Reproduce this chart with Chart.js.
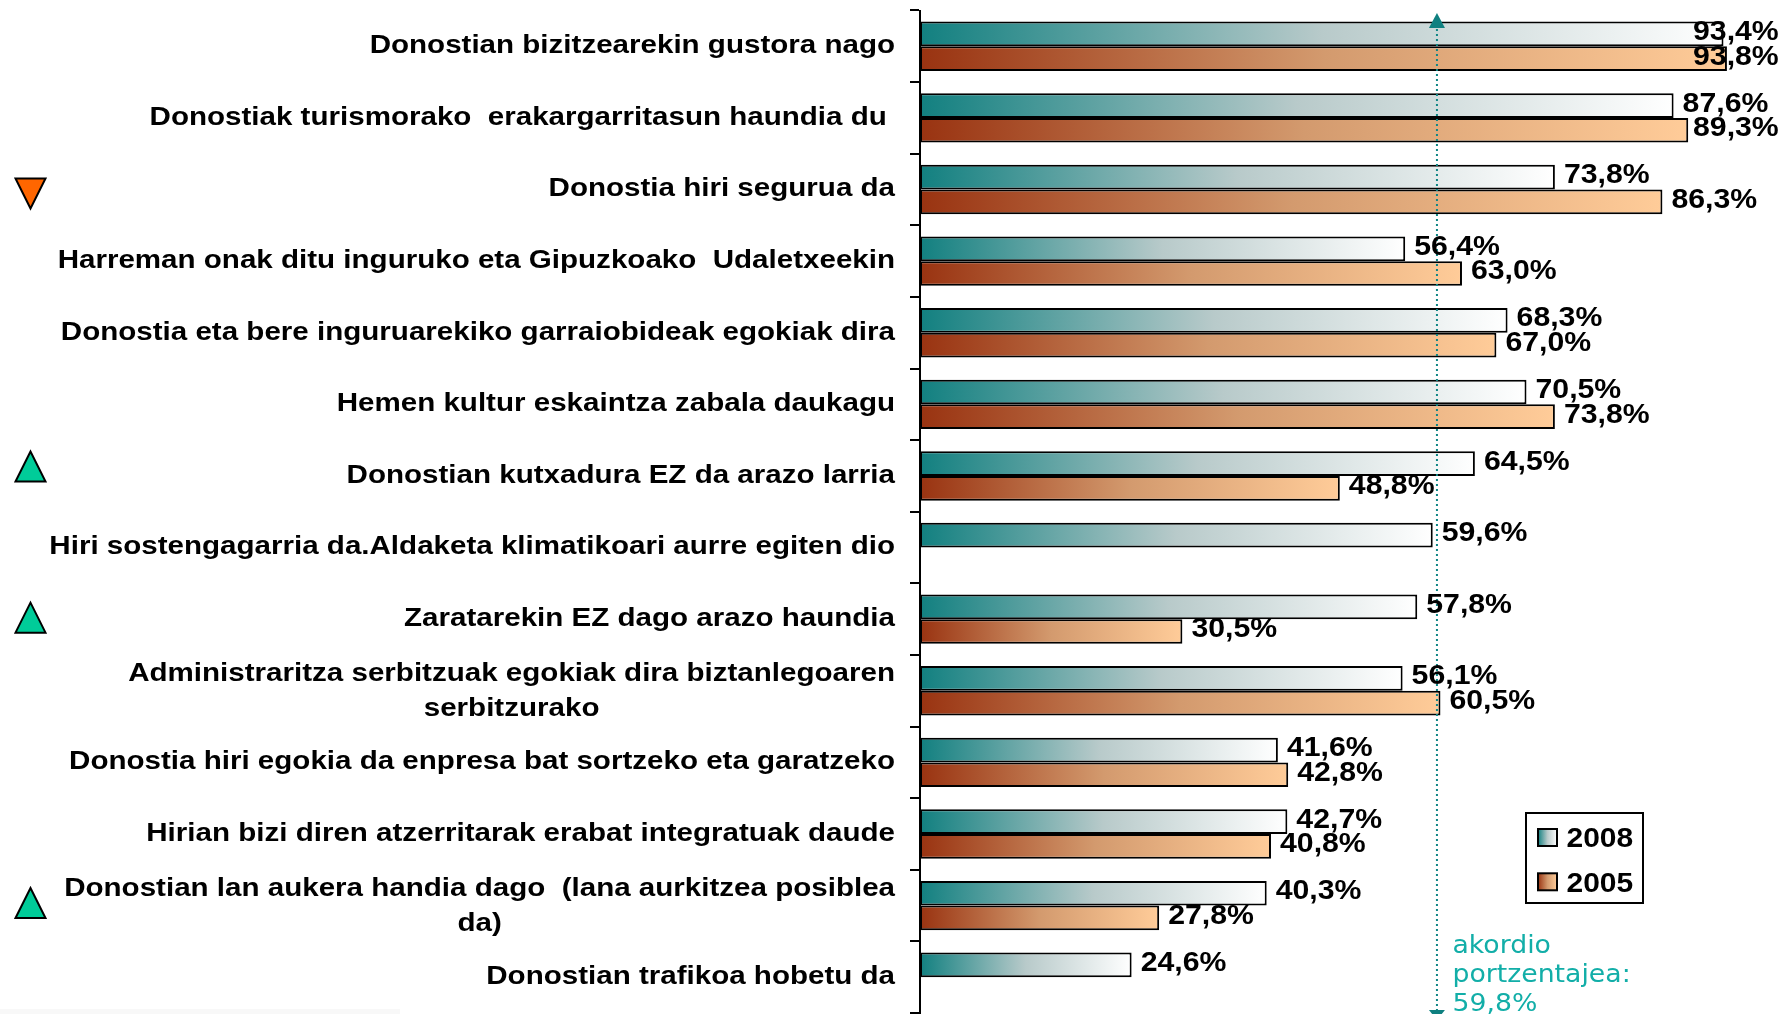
<!DOCTYPE html>
<html><head><meta charset="utf-8">
<style>html,body{margin:0;padding:0;background:#fff;overflow:hidden}canvas{display:block}</style>
<script src="https://cdn.jsdelivr.net/npm/chart.js@4"></script></head>
<body><canvas id="c" width="1782" height="1014"></canvas>
<script>
const categories = [
 "Donostian bizitzearekin gustora nago",
 "Donostiak turismorako  erakargarritasun haundia du\u00a0",
 "Donostia hiri segurua da",
 "Harreman onak ditu inguruko eta Gipuzkoako  Udaletxeekin",
 "Donostia eta bere inguruarekiko garraiobideak egokiak dira",
 "Hemen kultur eskaintza zabala daukagu",
 "Donostian kutxadura EZ da arazo larria",
 "Hiri sostengagarria da.Aldaketa klimatikoari aurre egiten dio",
 "Zaratarekin EZ dago arazo haundia",
 ["Administraritza serbitzuak egokiak dira biztanlegoaren","serbitzurako"],
 "Donostia hiri egokia da enpresa bat sortzeko eta garatzeko",
 "Hirian bizi diren atzerritarak erabat integratuak daude",
 ["Donostian lan aukera handia dago  (lana aurkitzea posiblea","da)"],
 "Donostian trafikoa hobetu da"
];
const values2008 = [93.4,87.6,73.8,56.4,68.3,70.5,64.5,59.6,57.8,56.1,41.6,42.7,40.3,24.6];
const values2005 = [93.8,89.3,86.3,63.0,67.0,73.8,48.8,null,30.5,60.5,42.8,40.8,27.8,null];
const agreement = 59.8;
const agreementLines = ["akordio","portzentajea:","59,8%"];
const seriesNames = ["2008","2005"];
const markerRows = [2,6,8,12];
const markerDirs = ["down","up","up","up"];

const FONT = '"Liberation Sans", Arial, sans-serif';
const TEAL=['#128080','#b8caca','#ffffff'], BROWN=['#993311','#d39a6e','#ffcc99'];
const grad = (ctx,x0,x1,cols)=>{const g=ctx.createLinearGradient(x0,0,x1,0);cols.forEach((c,i)=>g.addColorStop(i/(cols.length-1),c));return g;};
const barFill = cols=>c=>{
  if(c.type!=='data'||!c.parsed||c.parsed.x==null) return cols[0];
  const s=c.chart.scales.x; if(!s) return cols[0];
  const p0=s.getPixelForValue(0),p1=s.getPixelForValue(c.parsed.x);
  if(!isFinite(p0)||!isFinite(p1)) return cols[0];
  return grad(c.chart.ctx,p0,p1,cols);
};
function stretched(ctx,t,x,y,px,sx){
  ctx.save();ctx.font='bold '+px+'px '+FONT;ctx.textBaseline='middle';ctx.textAlign='left';
  ctx.translate(x,y);ctx.scale(sx,1);ctx.fillText(t,0,0);ctx.restore();
}
const LABEL_RIGHT=895, LABEL_STRETCH=1.115;
const overlay = {
 id:'overlay',
 beforeDraw(chart){
  const ctx=chart.ctx, y=chart.scales.y;
  ctx.save();ctx.fillStyle='#f8f8f8';ctx.fillRect(0,1009,400,5);ctx.restore();
  ctx.save();ctx.font=y._resolveTickFontOptions(0).string;
  y.getLabelItems().forEach(it=>{
    if(it._moved) return; it._moved=true;
    const t=it.options.translation;
    if(Array.isArray(it.label)){
      const w=Math.max(...it.label.map(l=>ctx.measureText(l).width));
      it.options.textAlign='center'; t[0]=LABEL_RIGHT-w/2; t[1]+=0.4;
    } else { t[0]=LABEL_RIGHT; t[1]-=0.5; }
  });
  ctx.restore();
  if(!y._wrapped){
    y._wrapped=true;
    const orig=y.drawLabels;
    y.drawLabels=function(area){
      ctx.save();ctx.translate(LABEL_RIGHT,0);ctx.scale(LABEL_STRETCH,1);ctx.translate(-LABEL_RIGHT,0);
      orig.call(this,area);ctx.restore();
    };
  }
 },
 afterDatasetsDraw(chart){
  const ctx=chart.ctx,xs=chart.scales.x,ys=chart.scales.y;
  const lx=xs.getPixelForValue(agreement)+2.5;
  ctx.save();
  ctx.strokeStyle='#0f8585';ctx.lineWidth=2;ctx.setLineDash([2,3]);
  ctx.beginPath();ctx.moveTo(lx,24);ctx.lineTo(lx,1010);ctx.stroke();ctx.setLineDash([]);
  ctx.fillStyle='#0f8080';
  ctx.beginPath();ctx.moveTo(lx,13);ctx.lineTo(lx+8,28);ctx.lineTo(lx-8,28);ctx.closePath();ctx.fill();
  ctx.beginPath();ctx.moveTo(lx-8,1010);ctx.lineTo(lx+8,1010);ctx.lineTo(lx,1020);ctx.closePath();ctx.fill();
  ctx.fillStyle='#000';
  chart.data.datasets.forEach((ds,di)=>{
    chart.getDatasetMeta(di).data.forEach((el,i)=>{
      const v=ds.data[i]; if(v==null) return;
      const txt=v.toFixed(1).replace('.',',')+'%';
      const w=86;
      let x=el.x+9; if(x+w>1779) x=1779-w;
      stretched(ctx,txt,x,el.y-1.5,27,1.12);
    });
  });
  ctx.fillStyle='#12aea8';ctx.font='25px "DejaVu Sans"';ctx.textBaseline='alphabetic';ctx.textAlign='left';
  agreementLines.forEach((t,i)=>{ctx.save();ctx.translate(1452.5,953+i*29);ctx.scale(1.068,1);ctx.fillText(t,0,0);ctx.restore();});
  ctx.fillStyle='#fff';ctx.strokeStyle='#000';ctx.lineWidth=2;
  ctx.fillRect(1526,813,117,90);ctx.strokeRect(1526,813,117,90);
  seriesNames.forEach((n,i)=>{
    const ty=829+i*44.3;
    ctx.fillStyle=grad(ctx,1538,1557,i?BROWN:TEAL);
    ctx.fillRect(1538,ty,19,17);ctx.strokeStyle='#000';ctx.strokeRect(1538,ty,19,17);
    ctx.fillStyle='#000';stretched(ctx,n,1566.5,ty+11,27,1.11);
  });
  ctx.lineWidth=2;ctx.lineJoin='miter';
  const shift=[4,-9.5,-1.5,-2.5];
  markerRows.forEach((r,i)=>{
    const cy=ys.getPixelForValue(r)+shift[i],down=markerDirs[i]==='down';
    ctx.fillStyle=down?'#ff6600':'#00cc99';
    ctx.beginPath();
    if(down){ctx.moveTo(15.5,cy-15);ctx.lineTo(45.5,cy-15);ctx.lineTo(30.5,cy+15);}
    else{ctx.moveTo(15.5,cy+15);ctx.lineTo(45.5,cy+15);ctx.lineTo(30.5,cy-15);}
    ctx.closePath();ctx.fill();ctx.strokeStyle='#000';ctx.stroke();
  });
  ctx.restore();
 }
};
new Chart(document.getElementById('c'),{
 type:'bar',
 data:{labels:categories,datasets:[
  {label:seriesNames[0],data:values2008,backgroundColor:barFill(TEAL),borderColor:'#000',borderWidth:2,borderSkipped:false,categoryPercentage:0.69,barPercentage:1},
  {label:seriesNames[1],data:values2005,backgroundColor:barFill(BROWN),borderColor:'#000',borderWidth:2,borderSkipped:false,categoryPercentage:0.69,barPercentage:1}
 ]},
 options:{
  indexAxis:'y',responsive:false,animation:false,
  layout:{padding:{top:10.5,bottom:1,left:0,right:0}},
  plugins:{legend:{display:false},tooltip:{enabled:false}},
  scales:{
   x:{display:false,min:0,max:100.2},
   y:{
    afterFit(s){s.width=920;s.paddingTop=0;s.paddingBottom=0;},
    border:{display:true,color:'#000',width:2},
    grid:{drawOnChartArea:false,color:'#000',lineWidth:2,tickLength:10,tickColor:'#000'},
    ticks:{color:'#000',autoSkip:false,font:{family:FONT,weight:'bold',size:26.5,lineHeight:1.34},padding:14}
   }
  }
 },
 plugins:[overlay]
});
</script></body></html>
